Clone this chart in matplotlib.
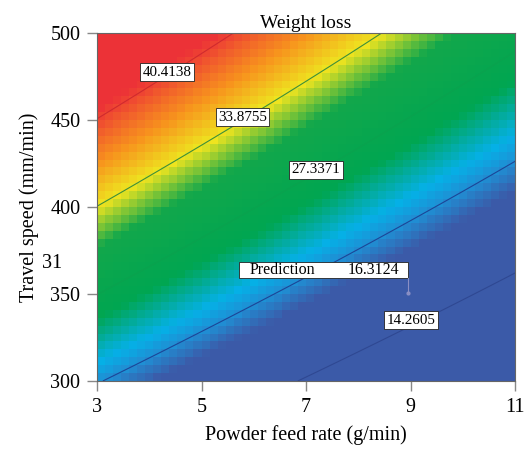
import numpy as np
import matplotlib
matplotlib.use("Agg")
import matplotlib.pyplot as plt
from matplotlib.colors import LinearSegmentedColormap
from matplotlib.patches import Rectangle

# contour levels of the response (Weight loss)
levels = [14.2605, 20.7988, 27.3371, 33.8755, 40.4138]

# points: (powder feed rate, travel speed, weight loss)
pt_x = [3.0, 5.68, 4.34,
        3.0, 4.93, 8.47, 5.78,
        7.19,
        3.05, 5.93, 8.03, 11.0,
        6.89, 9.37, 11.0, 9.01,
        8.95]
pt_y = [450, 500, 477.6,
        400, 432.8, 500, 451.7,
        421.3,
        300, 340.8, 375.3, 425.9,
        300.6, 334.1, 362.6, 335.0,
        350.6]
pt_w = [40.4138, 40.4138, 40.4138,
        33.8755, 33.8755, 33.8755, 33.8755,
        27.3371,
        20.7988, 20.7988, 20.7988, 20.7988,
        14.2605, 14.2605, 14.2605, 14.2605,
        16.3124]

# labelled contours and where the label boxes sit
label_text = ["40.4138", "33.8755", "27.3371", "14.2605"]
label_x = [4.34, 5.78, 7.19, 9.01]
label_y = [477.6, 451.7, 421.3, 335.0]

pred_x, pred_y, pred_val = 8.95, 350.6, "16.3124"

x_ticks = [3, 5, 7, 9, 11]
y_ticks = [300, 350, 400, 450, 500]


def design(x, y):
    x = np.asarray(x, float)
    y = np.asarray(y, float) / 100.0
    return np.stack([np.ones_like(x), x, y, x * y, x ** 2, y ** 2], axis=-1)


coef, *_ = np.linalg.lstsq(design(pt_x, pt_y), np.array(pt_w), rcond=None)


def surface(x, y):
    return design(x, y) @ coef


plt.rcParams['font.family'] = ['Liberation Serif', 'DejaVu Serif']

# blue -> cyan -> green -> yellow -> red, set by response value
cnodes = [(19.0, '#3b5aa8'), (20.8, '#1f8fd4'), (22.3, '#05b0e6'),
          (25.6, '#00a651'), (30.8, '#12a74b'), (33.8, '#eee41f'),
          (37.0, '#f7941d'), (41.2, '#ec3237')]
vmin, vmax = cnodes[0][0], cnodes[-1][0]
cmap = LinearSegmentedColormap.from_list(
    'de', [((v - vmin) / (vmax - vmin), c) for v, c in cnodes])

fig = plt.figure(figsize=(5.30, 4.53), dpi=100)
ax = fig.add_axes([0.183, 0.159, 0.789, 0.768])

# coarse blocky surface
xe = np.linspace(3, 11, 53)
ye = np.linspace(300, 500, 45)
xc, yc = np.meshgrid((xe[:-1] + xe[1:]) / 2, (ye[:-1] + ye[1:]) / 2)
ax.pcolormesh(xe, ye, surface(xc, yc), cmap=cmap, vmin=vmin, vmax=vmax,
              shading='flat', rasterized=True)

# smooth contour lines
xf, yf = np.meshgrid(np.linspace(3, 11, 300), np.linspace(300, 500, 300))
line_cols = ['#2f4892', '#1c4597', '#0aa24e', '#3d8f3a', '#d02a2e']
ax.contour(xf, yf, surface(xf, yf), levels=levels, colors=line_cols,
           linewidths=0.8)

box = dict(boxstyle='square,pad=0.15', fc='white', ec='#222222', lw=0.6)
for t, lx, ly in zip(label_text, label_x, label_y):
    ax.text(lx, ly, t, fontsize=10.8, ha='center', va='center', bbox=box)

# prediction flag
ax.add_patch(Rectangle((5.72, 359.2), pred_x - 5.72, 9.2, fc='white',
                       ec='#222222', lw=0.6, zorder=4))
ax.text(5.92, 363.8, "Prediction", fontsize=11.5, ha='left', va='center',
        zorder=5)
ax.text(pred_x - 0.17, 363.8, pred_val, fontsize=11.5, ha='right',
        va='center', zorder=5)
ax.plot([pred_x, pred_x], [359.2, pred_y], color='#8a8fc4', lw=0.8, zorder=4)
ax.plot([pred_x], [pred_y], 'o', ms=2, color='#8a8fc4', zorder=4)

ax.text(-0.108, (367.8 - 300) / 200, "31", transform=ax.transAxes,
        fontsize=14.5, ha='center', va='center')

ax.set_xlim(3, 11)
ax.set_ylim(300, 500)
ax.set_xticks(x_ticks)
ax.set_yticks(y_ticks)
ax.tick_params(direction='out', length=7, width=1, color='#888888',
               labelsize=14.5, pad=5)
for s in ax.spines.values():
    s.set_color('#666666')
    s.set_linewidth(0.8)

ax.set_title("Weight loss", fontsize=14, pad=4)
ax.set_xlabel("Powder feed rate (g/min)", fontsize=14.5, labelpad=6)
ax.set_ylabel("Travel speed (mm/min)", fontsize=14.5, labelpad=8)

fig.savefig("out.png", dpi=100)
